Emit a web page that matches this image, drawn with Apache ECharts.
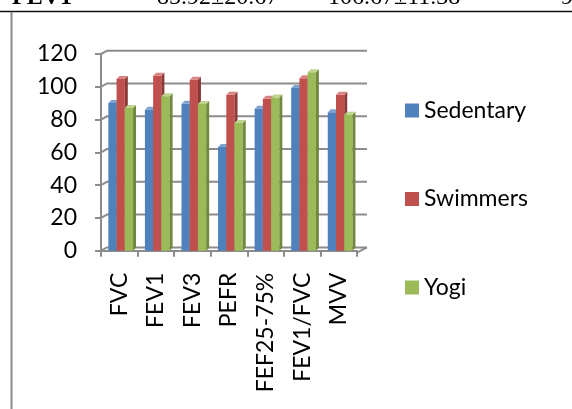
<!DOCTYPE html>
<html>
<head>
<meta charset="utf-8">
<script src="https://cdn.jsdelivr.net/npm/echarts@6/dist/echarts.min.js"></script>
<style>
  html, body { margin: 0; padding: 0; background: #fff; }
  #chart { width: 572px; height: 409px; }
</style>
</head>
<body>
<div id="chart"></div>
<script>
// Lung function indices (% predicted) for three groups
const categories = ['FVC', 'FEV1', 'FEV3', 'PEFR', 'FEF25-75%', 'FEV1/FVC', 'MVV'];
const sedentary = [90.1, 85.92, 89.7, 63.3, 86.6, 99.3, 84.4];
const swimmers  = [104.8, 106.67, 104.3, 95.2, 92.7, 105.2, 95.2];
const yogi      = [87.1, 94.2, 89.5, 77.9, 93.4, 108.8, 83.0];
const yTicks    = [0, 20, 40, 60, 80, 100, 120];

// Table row above the chart
const headerRow = ['FEV1', '85.92±20.67', '106.67±11.38', '9'];

const groups = [
  { name: 'Sedentary', values: sedentary, front: '#4F81BD', side: '#385D8A', top: '#7FA3D0' },
  { name: 'Swimmers',  values: swimmers,  front: '#C0504D', side: '#8C3836', top: '#D98482' },
  { name: 'Yogi',      values: yogi,      front: '#9BBB59', side: '#71893F', top: '#BCD48C' }
];

const FONT = 'Lato, "Open Sans", sans-serif';
const GRID_COLOR = '#8C8C8C';

// Back wall, grid lines and floor of the 3-D plot area
function renderFrame(params, api) {
  const cs = params.coordSys;
  const L = cs.x, R = cs.x + cs.width;
  const y = api.coord([0, api.value(1)])[1];
  const children = [{
    type: 'polyline',
    shape: { points: [[L, y], [L + 6, y - 3.3], [R + 10, y - 3.3]] },
    style: { stroke: GRID_COLOR, lineWidth: 2, fill: null }
  }];
  if (api.value(1) === 0) {
    children.push({
      type: 'line',
      shape: { x1: R, y1: y + 2, x2: R + 10, y2: y - 3.3 },
      style: { stroke: GRID_COLOR, lineWidth: 2 }
    });
    children.push({
      type: 'line',
      shape: { x1: L, y1: y, x2: L, y2: y + 2 },
      style: { stroke: GRID_COLOR, lineWidth: 2 }
    });
  }
  return { type: 'group', children };
}

// Column drawn as a front face with a shaded side and top
function barRenderer(idx) {
  const g = groups[idx];
  return function (params, api) {
    const cat = api.value(0), val = api.value(1);
    const top = api.coord([cat, val]);
    const base = api.coord([cat, 0]);
    const band = api.size([1, 0])[0];
    const bw = band * 0.225;
    const x0 = top[0] - 1.5 * bw + 1.4 + idx * bw;
    const yt = top[1], yb = base[1];
    const d = 3;
    return {
      type: 'group',
      children: [
        { type: 'rect', shape: { x: x0, y: yt, width: bw, height: yb - yt }, style: { fill: g.front } },
        { type: 'polygon', shape: { points: [[x0 + bw, yt], [x0 + bw + d, yt - d], [x0 + bw + d, yb - d], [x0 + bw, yb]] }, style: { fill: g.side } },
        { type: 'polygon', shape: { points: [[x0, yt], [x0 + d, yt - d], [x0 + bw + d, yt - d], [x0 + bw, yt]] }, style: { fill: g.top } }
      ]
    };
  };
}

const chart = echarts.init(document.getElementById('chart'), null, { renderer: 'canvas' });

const headerX = [12, 157, 328, 561];
const option = {
  animation: false,
  backgroundColor: '#ffffff',
  grid: { left: 101, top: 54, width: 256, height: 196.7, containLabel: false },
  xAxis: {
    type: 'category',
    data: categories,
    offset: 2,
    axisLine: { show: true, lineStyle: { color: GRID_COLOR, width: 2 } },
    axisTick: { show: true, length: 6, interval: 0, lineStyle: { color: GRID_COLOR, width: 2 } },
    axisLabel: { rotate: 90, interval: 0, margin: 20, color: '#000', fontFamily: FONT, fontSize: 23 },
    splitLine: { show: false }
  },
  yAxis: {
    type: 'value',
    min: 0, max: 120, interval: 20,
    axisLine: { show: true, lineStyle: { color: GRID_COLOR, width: 2 } },
    axisTick: { show: true, length: 6, lineStyle: { color: GRID_COLOR, width: 2 } },
    axisLabel: { margin: 24, color: '#000', fontFamily: FONT, fontSize: 23 },
    splitLine: { show: false }
  },
  legend: {
    orient: 'vertical',
    left: 400, top: 94,
    itemWidth: 14, itemHeight: 14,
    itemGap: 65.5,
    icon: 'rect',
    data: groups.map(g => g.name),
    textStyle: { color: '#000', fontFamily: FONT, fontSize: 23 }
  },
  graphic: [
    { type: 'line', shape: { x1: 0, y1: 11.5, x2: 572, y2: 11.5 }, style: { stroke: '#111', lineWidth: 1.5 } },
    { type: 'line', shape: { x1: 11.5, y1: 12, x2: 11.5, y2: 409 }, style: { stroke: '#8A8A8A', lineWidth: 2 } }
  ].concat(headerRow.map((t, i) => ({
    type: 'text',
    left: headerX[i], top: -14,
    style: {
      text: t,
      fill: '#000',
      font: (i === 0 ? 'bold ' : '') + '24px "Liberation Serif", "Times New Roman", serif'
    }
  }))),
  series: [
    {
      type: 'custom',
      name: 'frame',
      z: 1,
      renderItem: renderFrame,
      encode: { x: 0, y: 1 },
      data: yTicks.map(v => [0, v]),
      silent: true
    }
  ].concat(groups.map((g, i) => ({
    type: 'custom',
    name: g.name,
    z: 2 + i,
    itemStyle: { color: g.front },
    renderItem: barRenderer(i),
    encode: { x: 0, y: 1 },
    data: g.values.map((v, k) => [k, v])
  })))
};

chart.setOption(option);
</script>
</body>
</html>
